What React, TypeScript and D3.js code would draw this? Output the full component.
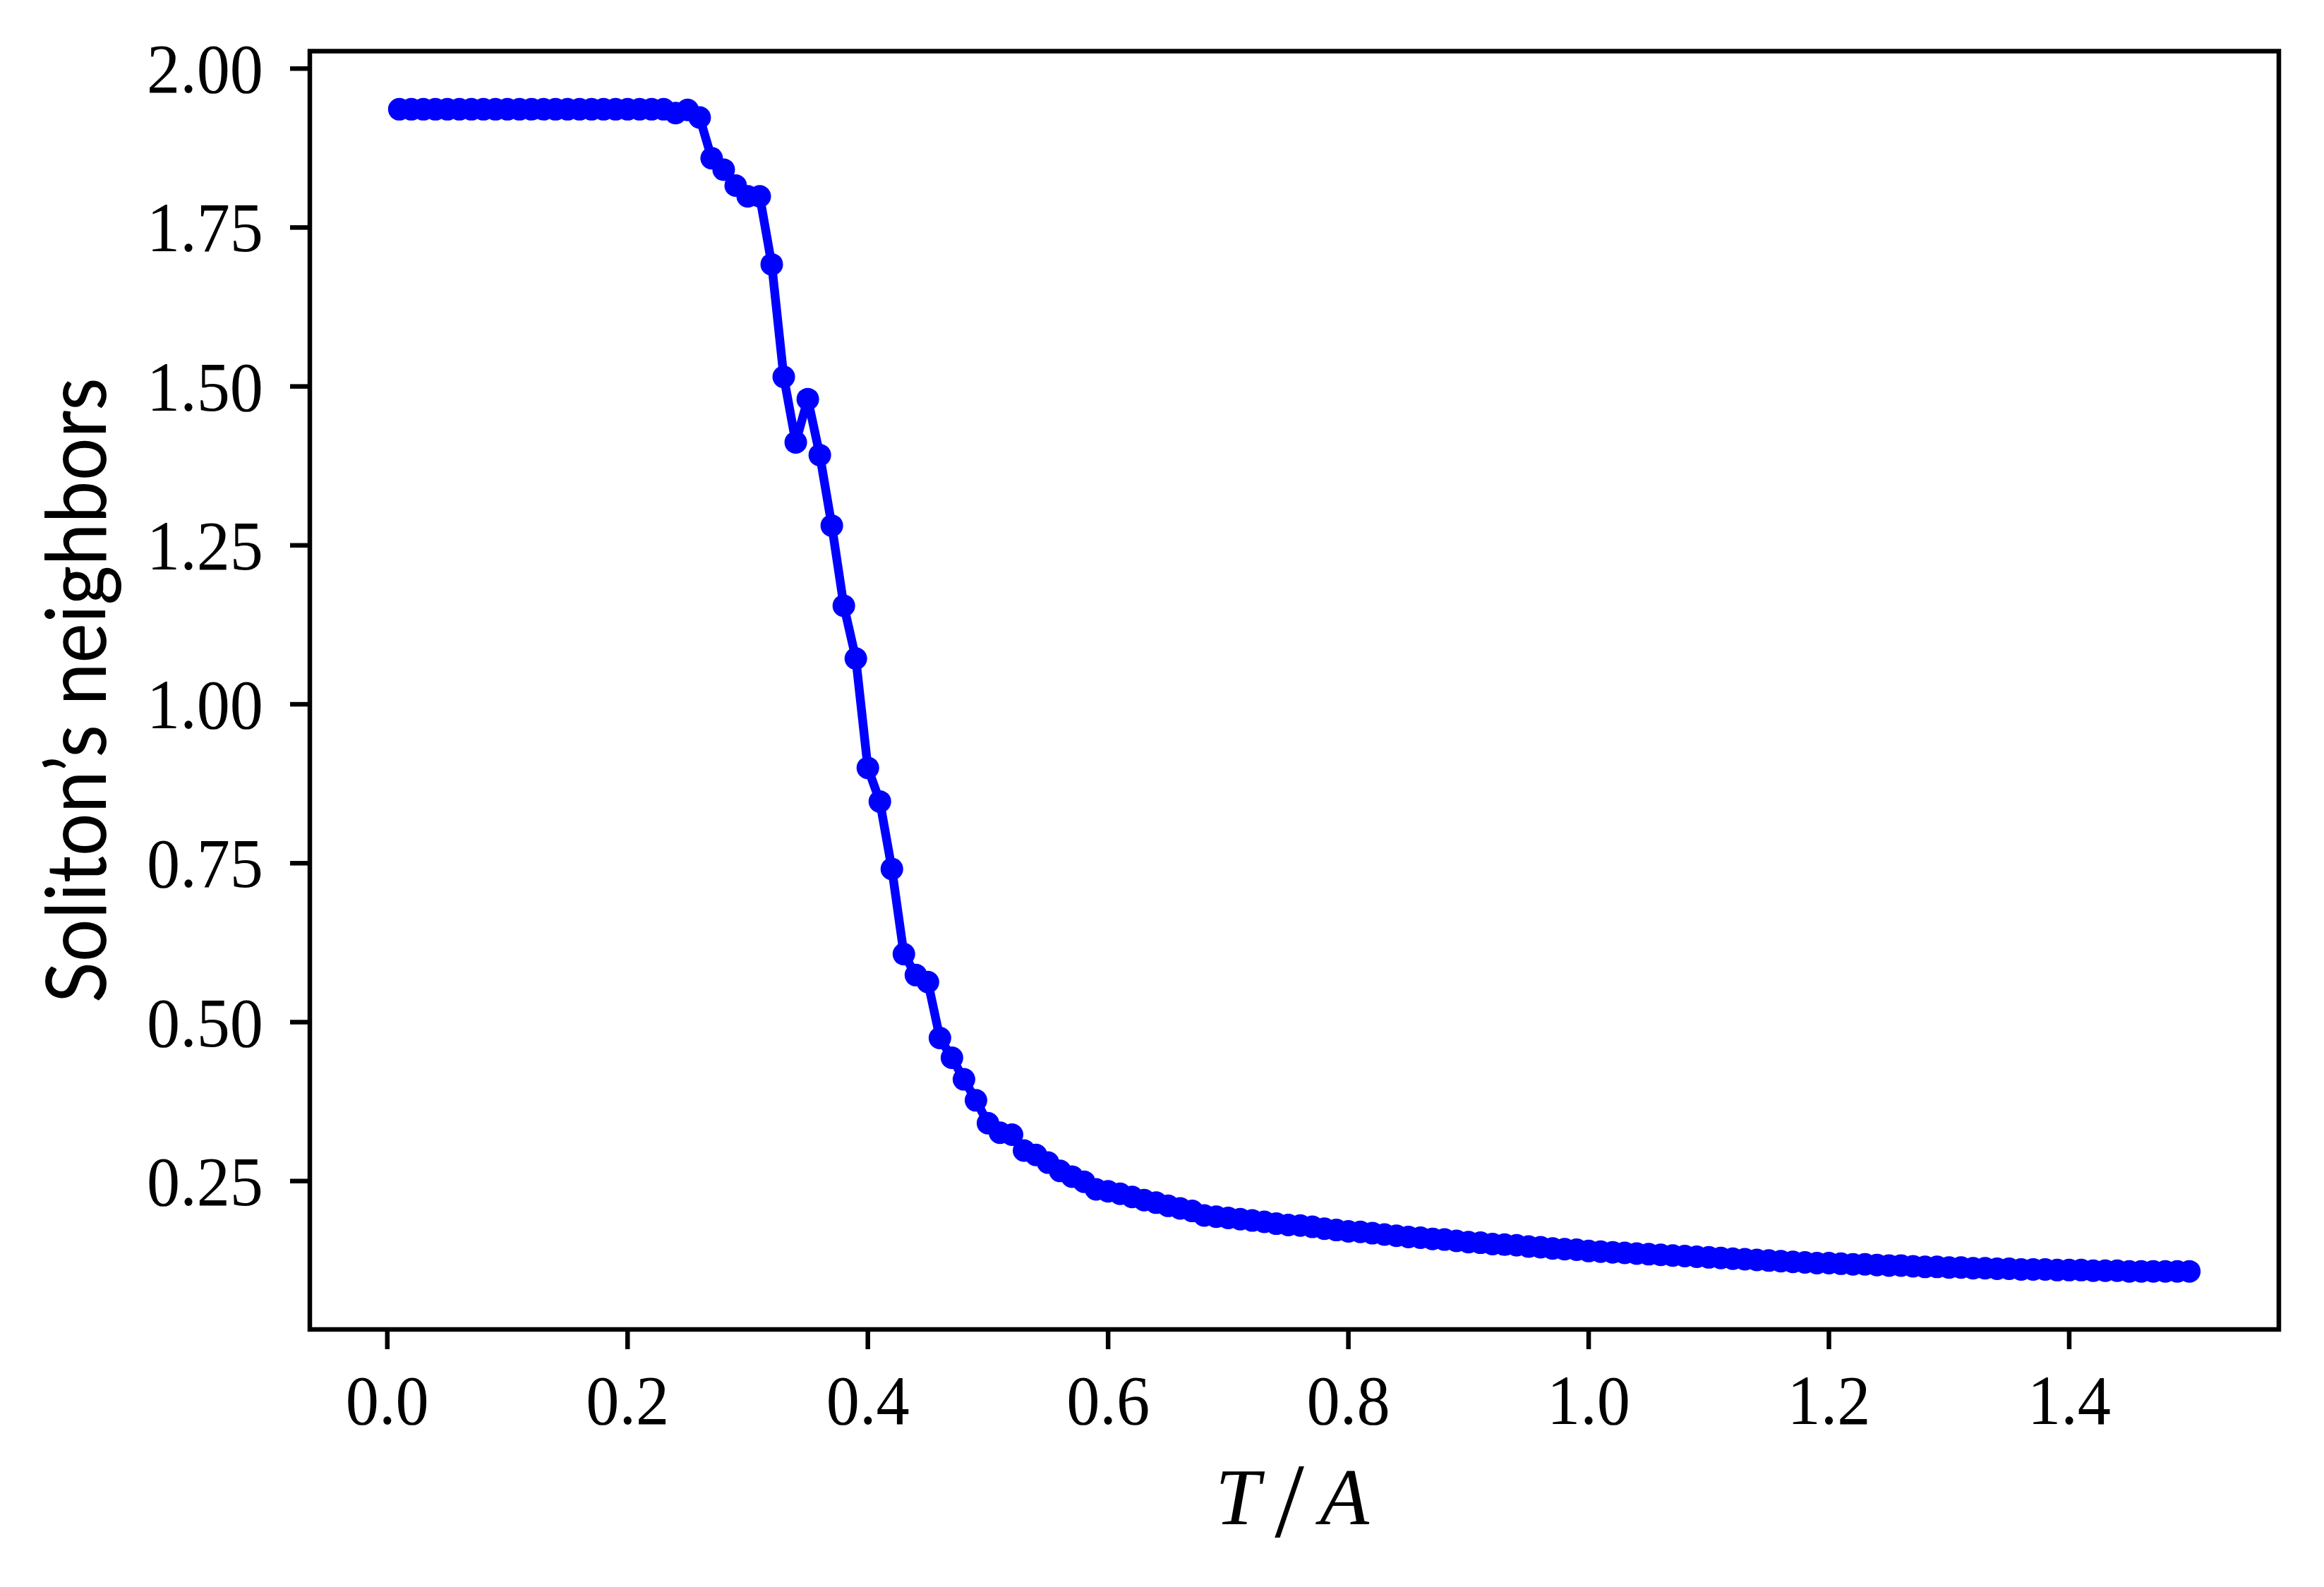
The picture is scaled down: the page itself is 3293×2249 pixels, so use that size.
import React from "react";
import * as d3 from "d3";

const temperatures: number[] = d3.range(1, 151).map((i) => i / 100);

const neighbors: number[] = [
  1.936, 1.936, 1.936, 1.936, 1.936, 1.936, 1.936, 1.936, 1.936, 1.936,
  1.936, 1.936, 1.936, 1.936, 1.936, 1.936, 1.936, 1.936, 1.936, 1.936,
  1.936, 1.936, 1.936, 1.930, 1.935, 1.923, 1.859, 1.841, 1.816, 1.799,
  1.799, 1.692, 1.515, 1.412, 1.480, 1.392, 1.281, 1.155, 1.072, 0.900,
  0.847, 0.741, 0.607, 0.574, 0.563, 0.475, 0.444, 0.410, 0.377, 0.341,
  0.326, 0.323, 0.298, 0.291, 0.279, 0.266, 0.257, 0.249, 0.237, 0.234,
  0.230, 0.225, 0.220, 0.216, 0.211, 0.207, 0.203, 0.196, 0.194, 0.192,
  0.190, 0.188, 0.186, 0.183, 0.181, 0.180, 0.178, 0.175, 0.173, 0.171,
  0.170, 0.168, 0.166, 0.164, 0.162, 0.161, 0.159, 0.158, 0.156, 0.154,
  0.153, 0.151, 0.150, 0.149, 0.147, 0.146, 0.144, 0.143, 0.142, 0.140,
  0.139, 0.138, 0.137, 0.136, 0.135, 0.134, 0.133, 0.132, 0.131, 0.130,
  0.129, 0.128, 0.127, 0.126, 0.125, 0.124, 0.123, 0.122, 0.121, 0.121,
  0.120, 0.119, 0.119, 0.118, 0.117, 0.117, 0.116, 0.115, 0.115, 0.114,
  0.114, 0.113, 0.113, 0.112, 0.112, 0.111, 0.111, 0.111, 0.110, 0.110,
  0.110, 0.109, 0.109, 0.109, 0.108, 0.108, 0.108, 0.108, 0.108, 0.108,
];

const xTicks: number[] = [0.0, 0.2, 0.4, 0.6, 0.8, 1.0, 1.2, 1.4];
const xTickLabels: string[] = ["0.0", "0.2", "0.4", "0.6", "0.8", "1.0", "1.2", "1.4"];
const yTicks: number[] = [0.25, 0.5, 0.75, 1.0, 1.25, 1.5, 1.75, 2.0];
const yTickLabels: string[] = ["0.25", "0.50", "0.75", "1.00", "1.25", "1.50", "1.75", "2.00"];

const W = 3293;
const H = 2249;
const left = 439;
const right = 3229;
const top = 72.5;
const bottom = 1884;

export default function App() {
  const points = temperatures.map((t, i) => [t, neighbors[i]] as [number, number]);
  const [x0, x1] = d3.extent(temperatures) as [number, number];
  const [y0, y1] = d3.extent(neighbors) as [number, number];
  const mx = (x1 - x0) * 0.05;
  const my = (y1 - y0) * 0.05;
  const x = d3.scaleLinear().domain([x0 - mx, x1 + mx]).range([left, right]);
  const y = d3.scaleLinear().domain([y0 - my, y1 + my]).range([bottom, top]);
  const line = d3.line<[number, number]>().x((d) => x(d[0])).y((d) => y(d[1]));

  const serif = "'Liberation Serif', 'DejaVu Serif', serif";
  const sans = "Lato, 'Open Sans', 'DejaVu Sans', sans-serif";
  const sw = 6.5;
  const tickLen = 28;

  return (
    <svg
      width={W}
      height={H}
      style={{ position: "absolute", left: 0, top: 0, background: "#fff" }}
      xmlns="http://www.w3.org/2000/svg"
    >
      <rect x={0} y={0} width={W} height={H} fill="#fff" />
      <path d={line(points) || ""} fill="none" stroke="#0000ff" strokeWidth={12.5} strokeLinejoin="round" />
      {points.map((p, i) => (
        <circle key={i} cx={x(p[0])} cy={y(p[1])} r={16} fill="#0000ff" />
      ))}
      <rect x={left} y={top} width={right - left} height={bottom - top} fill="none" stroke="#000" strokeWidth={sw} />
      {xTicks.map((t, i) => (
        <g key={"xt" + i}>
          <line x1={x(t)} x2={x(t)} y1={bottom} y2={bottom + tickLen} stroke="#000" strokeWidth={sw} />
          <text
            x={x(t)}
            y={2018}
            textAnchor="middle"
            fontFamily={serif}
            fontSize={100}
            fill="#000"
            textLength={118}
            lengthAdjust="spacingAndGlyphs"
          >
            {xTickLabels[i]}
          </text>
        </g>
      ))}
      {yTicks.map((t, i) => (
        <g key={"yt" + i}>
          <line x1={left - tickLen} x2={left} y1={y(t)} y2={y(t)} stroke="#000" strokeWidth={sw} />
          <text
            x={373}
            y={y(t) + 34}
            textAnchor="end"
            fontFamily={serif}
            fontSize={100}
            fill="#000"
            textLength={165}
            lengthAdjust="spacingAndGlyphs"
          >
            {yTickLabels[i]}
          </text>
        </g>
      ))}
      <text x={1722} y={2160} fontFamily={serif} fontSize={114} fontStyle="italic" fill="#000">
        T
      </text>
      <text x={1827} y={2178} fontFamily={serif} fontSize={150} fill="#000" textAnchor="middle">
        /
      </text>
      <text x={1940} y={2160} fontFamily={serif} fontSize={114} fontStyle="italic" fill="#000" textAnchor="end">
        A
      </text>
      <text
        transform={`translate(150, ${(top + bottom) / 2}) rotate(-90)`}
        textAnchor="middle"
        fontFamily={sans}
        fontSize={118}
        fill="#000"
        textLength={886}
        lengthAdjust="spacingAndGlyphs"
      >
        Soliton’s neighbors
      </text>
    </svg>
  );
}
